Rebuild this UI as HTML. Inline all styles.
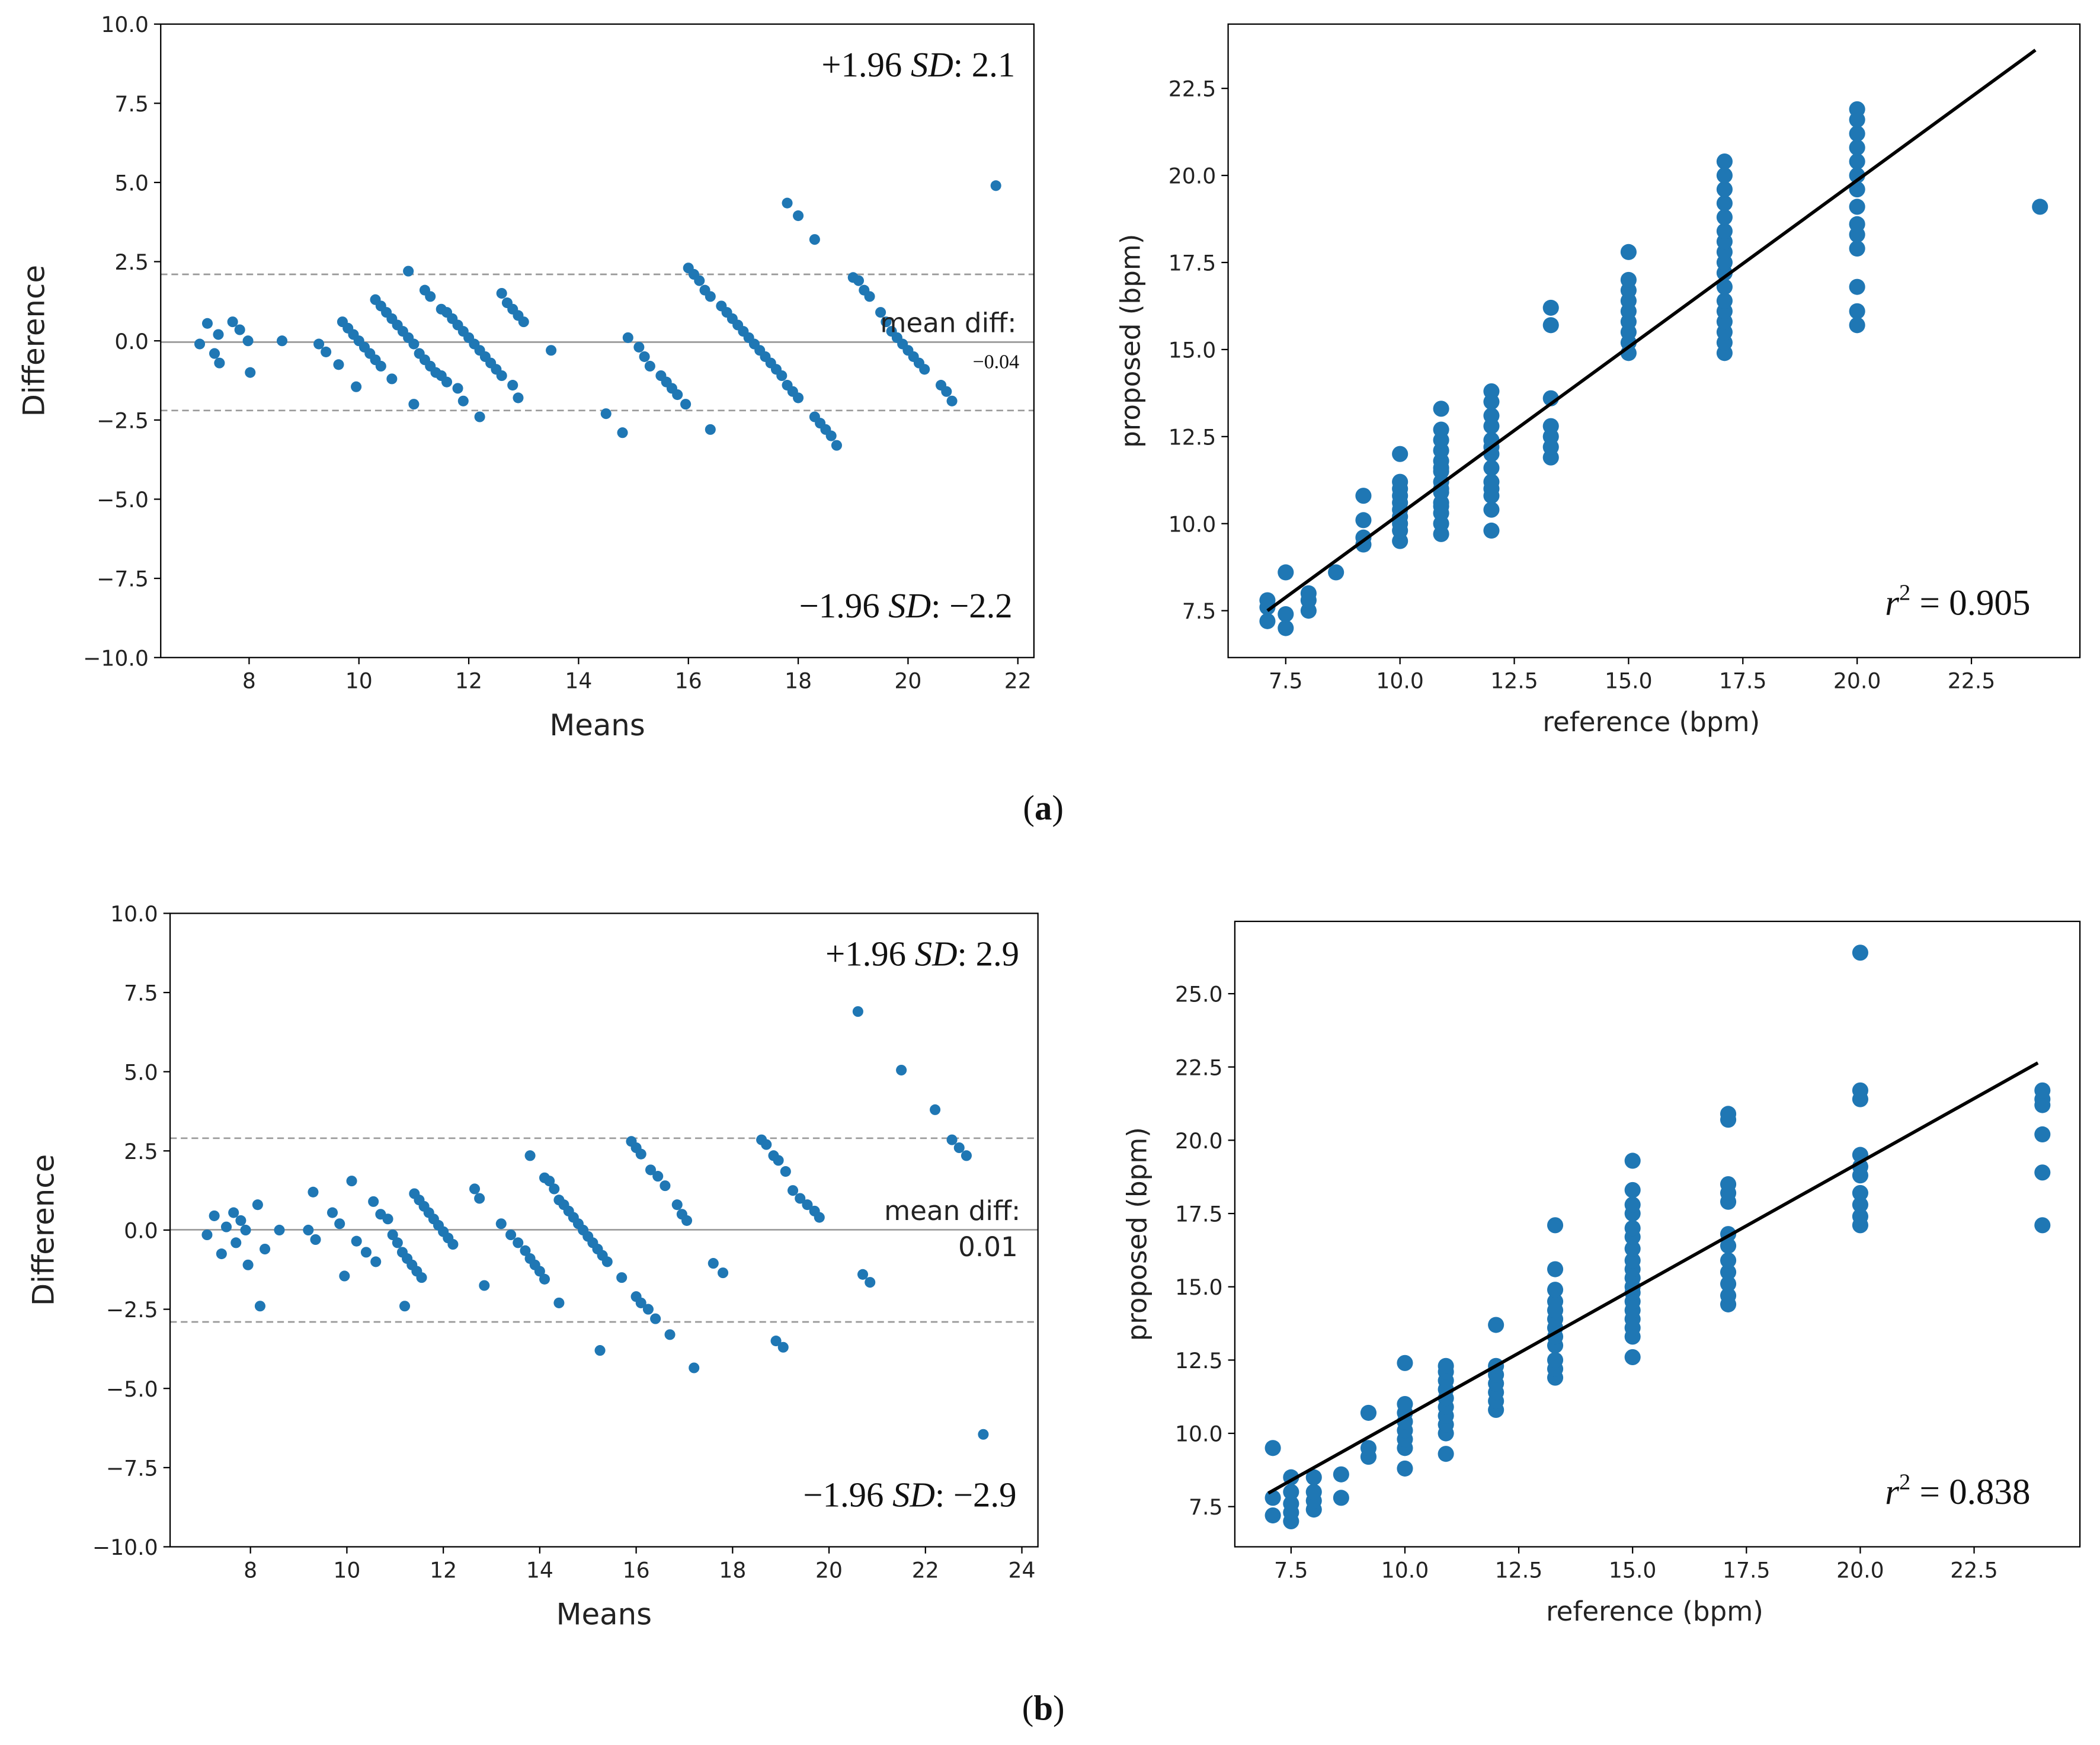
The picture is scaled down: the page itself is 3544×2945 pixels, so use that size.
<!DOCTYPE html>
<html><head><meta charset="utf-8"><style>
html,body{margin:0;padding:0;background:#fff;}
svg{display:block;}
</style></head><body>
<svg id="fig" width="3544" height="2945" viewBox="0 0 1568 1303" preserveAspectRatio="none" xmlns="http://www.w3.org/2000/svg" font-family="'DejaVu Sans','Liberation Sans',sans-serif"></svg>
<script>
// ---- Data ----
const aMeans = [7.1,7.24,7.37,7.44,7.46,7.7,7.83,7.98,8.02,8.6,9.27,9.4,9.63,9.95,
9.7,9.8,9.9,10.0,10.1,10.2,10.3,10.4,
10.3,10.4,10.5,10.6,10.7,10.8,10.9,11.0,11.1,11.2,11.3,11.4,11.5,11.6,11.8,10.9,10.6,11.0,
11.2,11.3,11.5,11.6,11.7,11.8,11.9,12.0,12.1,12.2,12.3,12.4,12.5,12.6,11.9,12.2,
12.6,12.7,12.8,12.9,13.0,12.8,12.9,13.5,
14.5,14.8,14.9,15.1,15.2,15.3,15.5,15.6,15.7,15.8,15.95,16.4,
16.0,16.1,16.2,16.3,16.4,16.6,16.7,16.8,16.9,17.0,17.1,17.2,17.3,17.4,17.5,17.6,17.7,17.8,17.9,18.0,17.8,18.0,18.3,18.3,18.4,18.5,18.6,18.7,
19.0,19.1,19.2,19.3,19.5,19.6,19.7,19.8,19.9,20.0,20.1,20.2,20.3,20.6,20.7,20.8,21.6];
const aDiffs = [-0.1,0.55,-0.4,0.2,-0.7,0.6,0.35,0,-1.0,0,-0.1,-0.35,-0.75,-1.45,
0.6,0.4,0.2,0.0,-0.2,-0.4,-0.6,-0.8,
1.3,1.1,0.9,0.7,0.5,0.3,0.1,-0.1,-0.4,-0.6,-0.8,-1.0,-1.1,-1.3,-1.5,2.2,-1.2,-2.0,
1.6,1.4,1.0,0.9,0.7,0.5,0.3,0.1,-0.1,-0.3,-0.5,-0.7,-0.9,-1.1,-1.9,-2.4,
1.5,1.2,1.0,0.8,0.6,-1.4,-1.8,-0.3,
-2.3,-2.9,0.1,-0.2,-0.5,-0.8,-1.1,-1.3,-1.5,-1.7,-2.0,-2.8,
2.3,2.1,1.9,1.6,1.4,1.1,0.9,0.7,0.5,0.3,0.1,-0.1,-0.3,-0.5,-0.7,-0.9,-1.1,-1.4,-1.6,-1.8,4.35,3.95,3.2,-2.4,-2.6,-2.8,-3.0,-3.3,
2.0,1.9,1.6,1.4,0.9,0.6,0.3,0.1,-0.1,-0.3,-0.5,-0.7,-0.9,-1.4,-1.6,-1.9,4.9];
const aMeanDiff = -0.04, aUpper = 2.1, aLower = -2.2;

const aRefCols = [7.1,7.5,8.0,8.6,9.2,10.0,10.9,12.0,13.3,15.0,17.1,20.0,24.0];
const aPropCols = [[7.2,7.6,7.8],[7.0,7.4,8.6],[7.5,7.8,8.0],[8.6],[9.4,9.6,10.1,10.8],
[9.5,9.8,10.0,10.2,10.4,10.6,10.8,11.0,11.2,12.0],
[9.7,10.0,10.3,10.6,10.9,11.2,11.5,11.8,12.1,12.4,12.7,13.3,10.5,11.0,11.6],
[9.8,10.4,10.8,11.2,11.6,12.0,12.4,12.8,13.1,13.5,13.8,11.0,12.2],
[11.9,12.2,12.5,12.8,13.6,15.7,16.2],
[14.9,15.2,15.5,15.8,16.1,16.4,16.7,17.0,17.8],
[14.9,15.2,15.5,15.8,16.1,16.4,16.8,17.2,17.5,17.8,18.1,18.4,18.8,19.2,19.6,20.0,20.4],
[15.7,16.1,16.8,17.9,18.3,18.6,19.1,19.6,20.0,20.4,20.8,21.2,21.6,21.9],[19.1]];
const aFitX = [7.1,23.9], aFitY = [7.5,23.6];

const bMeans = [7.1,7.25,7.4,7.5,7.65,7.7,7.8,7.9,7.95,8.15,8.2,8.3,8.6,9.2,9.3,9.35,9.7,9.85,9.95,10.1,10.2,10.4,10.55,10.6,10.7,10.85,10.95,11.05,11.15,11.25,11.35,11.45,11.55,11.2,11.4,11.5,11.6,11.7,11.8,11.9,12.0,12.1,12.2,12.65,12.75,12.85,13.2,13.4,13.55,13.7,13.8,13.9,14.0,14.1,13.8,14.1,14.2,14.3,14.4,14.4,14.5,14.6,14.7,14.8,14.9,15.0,15.1,15.2,15.25,15.3,15.4,15.7,15.9,16.0,16.1,16.3,16.45,16.6,16.85,16.95,17.05,16.0,16.1,16.25,16.4,16.7,17.2,17.6,17.8,18.6,18.7,18.85,18.95,19.1,19.25,19.4,19.55,19.7,19.8,18.9,19.05,20.6,20.7,20.85,21.5,22.2,22.55,22.7,22.85,23.2];
const bDiffs = [-0.15,0.45,-0.75,0.1,0.55,-0.4,0.3,0.0,-1.1,0.8,-2.4,-0.6,0.0,0,1.2,-0.3,0.55,0.2,-1.45,1.55,-0.35,-0.7,0.9,-1.0,0.5,0.35,-0.15,-0.4,-0.7,-0.9,-1.1,-1.3,-1.5,-2.4,1.15,0.95,0.75,0.55,0.35,0.15,-0.05,-0.25,-0.45,1.3,1.0,-1.75,0.2,-0.15,-0.4,-0.65,-0.9,-1.1,-1.3,-1.55,2.35,1.65,1.55,1.3,-2.3,0.95,0.8,0.6,0.4,0.2,0.0,-0.2,-0.4,-0.6,-3.8,-0.8,-1.0,-1.5,2.8,2.6,2.4,1.9,1.7,1.4,0.8,0.5,0.3,-2.1,-2.3,-2.5,-2.8,-3.3,-4.35,-1.05,-1.35,2.85,2.7,2.35,2.2,1.85,1.25,1.0,0.8,0.6,0.4,-3.5,-3.7,6.9,-1.4,-1.65,5.05,3.8,2.85,2.6,2.35,-6.45];
const bMeanDiff = 0.01, bUpper = 2.9, bLower = -2.9;

const bRefCols = [7.1,7.5,8.0,8.6,9.2,10.0,10.9,12.0,13.3,15.0,17.1,20.0,24.0];
const bPropCols = [[7.2,7.8,9.5],[7.0,7.3,7.6,8.0,8.5],[7.4,7.7,8.0,8.5],[7.8,8.6],[9.2,9.5,10.7],
[8.8,9.5,9.8,10.1,10.4,10.7,11.0,12.4],
[9.3,10.0,10.3,10.6,10.9,11.2,11.5,11.8,12.1,12.3],
[10.8,11.1,11.4,11.7,12.0,12.3,13.7],
[11.9,12.2,12.5,13.0,13.3,13.6,13.9,14.2,14.5,14.9,15.6,17.1],
[12.6,13.3,13.6,13.9,14.2,14.5,14.8,15.0,15.3,15.6,15.9,16.3,16.7,17.0,17.5,17.8,18.3,19.3],
[14.4,14.7,15.1,15.5,15.9,16.4,16.8,17.9,18.2,18.5,20.7,20.9],
[17.1,17.4,17.8,18.2,18.8,19.1,19.5,21.4,21.7,26.4],
[17.1,18.9,20.2,21.2,21.4,21.7]];
const bFitX = [7.0,23.9], bFitY = [7.96,22.64];

const baYTicks = [10,7.5,5,2.5,0,-2.5,-5,-7.5,-10];
const baYLabels = ["10.0","7.5","5.0","2.5","0.0","−2.5","−5.0","−7.5","−10.0"];
const aXTicks = [8,10,12,14,16,18,20,22];
const bXTicks = [8,10,12,14,16,18,20,22,24];
const aScYTicks = [7.5,10,12.5,15,17.5,20,22.5];
const bScYTicks = [7.5,10,12.5,15,17.5,20,22.5,25];
const scXTicks = [7.5,10,12.5,15,17.5,20,22.5];

// ---- Drawing ----
const svg = document.getElementById('fig');
const NS = 'http://www.w3.org/2000/svg';
function mk(tag, attrs, parent){
  const e = document.createElementNS(NS, tag);
  for (const k in attrs) e.setAttribute(k, attrs[k]);
  (parent||svg).appendChild(e);
  return e;
}
function lin(d0,d1,p0,p1){ return v => p0 + (v-d0)*(p1-p0)/(d1-d0); }

function axesFrame(g, box, xs, ys, xt, xl, yt, yl){
  const f = mk('rect',{x:box.x0,y:box.y0,width:box.x1-box.x0,height:box.y1-box.y0,fill:'none',stroke:'#000','stroke-width':1}, g);
  
  
  xt.forEach((v,i)=>{
    const x = xs(v);
    mk('line',{x1:x,y1:box.y1,x2:x,y2:box.y1+5,stroke:'#000'},g);
    const t = mk('text',{x:x,y:box.y1+23,'font-size':16,'text-anchor':'middle',fill:'#222'},g);
    t.textContent = xl[i];
    
    
  });
  yt.forEach((v,i)=>{
    const y = ys(v);
    mk('line',{x1:box.x0-5,y1:y,x2:box.x0,y2:y,stroke:'#000'},g);
    const t = mk('text',{x:box.x0-9,y:y+6,'font-size':16,'text-anchor':'end',fill:'#222'},g);
    t.textContent = yl[i];
    
    
  });
}
function label(g, txt, x, y, rot, name, size){
  const t = mk('text',{x:x,y:y,'font-size':size||20,'text-anchor':'middle',fill:'#222'},g);
  if (rot) t.setAttribute('transform','rotate(-90 '+x+' '+y+')');
  t.textContent = txt;
  
  
}
function serifText(g, parts, x, y, size, name){
  const t = mk('text',{x:x,y:y,'font-size':size,'text-anchor':'end','font-family':"'Liberation Serif',serif",fill:'#111'},g);
  parts.forEach(p=>{
    const s = mk('tspan',p.a||{},t);
    s.textContent = p.t;
  });
  
  
}

function blandAltman(name, box, xd, xt, means, diffs, md, up, lo, upTxt, loTxt, mdTxt, mdSerif, yTxt){
  const g = mk('g',{});
  
  
  const xs = lin(xd[0],xd[1],box.x0+ (box.xa), box.x0+box.xb);
  const ys = lin(-10,10,box.y1,box.y0);
  [up,lo].forEach(v=>{
    const l = mk('line',{x1:box.x0,x2:box.x1,y1:ys(v),y2:ys(v),stroke:'#999','stroke-dasharray':'5,3','stroke-width':1.2},g);
    
    
  });
  const m = mk('line',{x1:box.x0,x2:box.x1,y1:ys(md),y2:ys(md),stroke:'#999','stroke-width':1.2},g);
  
  
  means.forEach((v,i)=>{
    const c = mk('circle',{cx:xs(v),cy:ys(diffs[i]),r:4,fill:'#1f77b4'},g);
    
    
  });
  axesFrame(g, box, xs, ys, xt, xt.map(String), baYTicks, baYLabels);
  label(g,'Means',(box.x0+box.x1)/2,box.y1+58,false,'x-axis-title',22);
  label(g,'Difference',box.x0-87,(box.y0+box.y1)/2,true,'y-axis-title',22);
  serifText(g,[{t:'+1.96 '},{t:'SD',a:{'font-style':'italic'}},{t:': '+upTxt}],box.x1-14,box.y0+39,26,'upper-limit-label');
  serifText(g,[{t:'−1.96 '},{t:'SD',a:{'font-style':'italic'}},{t:': '+loTxt}],box.x1-16,box.y1-30,26,'lower-limit-label');
  const t = mk('text',{x:box.x1-13,y:yTxt,'font-size':20,'text-anchor':'end',fill:'#222'},g);
  t.textContent = 'mean diff:';
  
  
  if (mdSerif){
    serifText(g,[{t:mdTxt}],box.x1-11,yTxt+27,15,'mean-diff-value');
  } else {
    const v = mk('text',{x:box.x1-15,y:yTxt+27,'font-size':20,'text-anchor':'end',fill:'#222'},g);
    v.textContent = mdTxt;
    
    
  }
}

function scatter(name, box, xmap, ymap, yt, refs, props, fx, fy, r2){
  const g = mk('g',{});
  
  
  const xs = lin(xmap[0],xmap[1],xmap[2],xmap[3]);
  const ys = lin(ymap[0],ymap[1],ymap[2],ymap[3]);
  refs.forEach((rv,i)=>{
    props[i].forEach(pv=>{
      const c = mk('circle',{cx:xs(rv),cy:ys(pv),r:6,fill:'#1f77b4'},g);
      
      
    });
  });
  const l = mk('line',{x1:xs(fx[0]),y1:ys(fy[0]),x2:xs(fx[1]),y2:ys(fy[1]),stroke:'#000','stroke-width':2.5},g);
  
  
  axesFrame(g, box, xs, ys, scXTicks, scXTicks.map(v=>v.toFixed(1)), yt, yt.map(v=>v.toFixed(1)));
  label(g,'reference (bpm)',(box.x0+box.x1)/2-2,box.y1+55,false,'x-axis-title',20);
  label(g,'proposed (bpm)',box.x0-66,(box.y0+box.y1)/2,true,'y-axis-title',20);
  serifText(g,[{t:'r',a:{'font-style':'italic'}},{t:'2',a:{'font-size':17,dy:-11}},{t:' = '+r2,a:{dy:11}}],1516,box.y1-32,27,'r-squared-label');
}

blandAltman('bland-altman-a',{x0:120,x1:772,y0:18,y1:491,xa:66,xb:640},[8,22],aXTicks,aMeans,aDiffs,aMeanDiff,aUpper,aLower,'2.1','−2.2','−0.04',true,248);
scatter('scatter-a',{x0:917,x1:1553,y0:18,y1:491},[7.5,22.5,960,1472],[7.5,22.5,456,66],aScYTicks,aRefCols,aPropCols,aFitX,aFitY,'0.905');
blandAltman('bland-altman-b',{x0:127,x1:775,y0:682,y1:1155,xa:60,xb:636},[8,24],bXTicks,bMeans,bDiffs,bMeanDiff,bUpper,bLower,'2.9','−2.9','0.01',false,911);
scatter('scatter-b',{x0:922,x1:1553,y0:688,y1:1155},[7.5,22.5,964,1474],[7.5,25,1125,742],bScYTicks,bRefCols,bPropCols,bFitX,bFitY,'0.838');

[['(a)',604,'caption-a'],['(b)',1276,'caption-b']].forEach(c=>{
  const t = mk('text',{x:779,y:c[1]+8,'font-size':26,'text-anchor':'middle','font-family':"'Liberation Serif',serif",fill:'#111'});
  t.innerHTML = '(<tspan font-weight="bold">'+c[0][1]+'</tspan>)';
  
  
});
</script>
</body></html>
